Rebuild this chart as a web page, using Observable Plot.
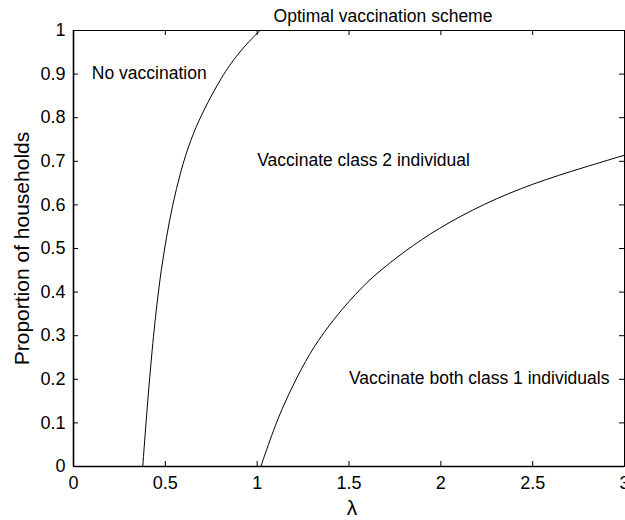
<!DOCTYPE html>
<html>
<head>
<meta charset="utf-8">
<script src="https://cdn.jsdelivr.net/npm/d3@7"></script>
<script src="https://cdn.jsdelivr.net/npm/@observablehq/plot@0.6"></script>
<style>
  html, body { margin: 0; padding: 0; background: #fff; overflow: hidden; }
  svg { font-family: "Liberation Sans", Arial, sans-serif; }
</style>
</head>
<body>
<div id="chart"></div>
<script>
// Boundary curve between "No vaccination" and "Vaccinate class 2 individual"
const curve1Lambda = [0.377, 0.401, 0.429, 0.454, 0.477, 0.506, 0.537, 0.584, 0.636, 0.701, 0.810, 0.889, 0.960, 1.015];
const curve1P      = [0.000, 0.136, 0.274, 0.373, 0.450, 0.526, 0.596, 0.679, 0.748, 0.812, 0.897, 0.943, 0.977, 1.000];

// Boundary curve between "Vaccinate class 2 individual" and "Vaccinate both class 1 individuals"
const curve2Lambda = [1.02, 1.10, 1.172, 1.263, 1.354, 1.50, 1.644, 1.807, 1.98, 2.234, 2.506, 2.778, 3.00];
const curve2P      = [0.000, 0.098, 0.167, 0.243, 0.304, 0.381, 0.442, 0.495, 0.545, 0.603, 0.650, 0.686, 0.714];

const xTicks = [0, 0.5, 1, 1.5, 2, 2.5, 3];
const yTicks = [0, 0.1, 0.2, 0.3, 0.4, 0.5, 0.6, 0.7, 0.8, 0.9, 1];

const regionLabels = ["No vaccination", "Vaccinate class 2 individual", "Vaccinate both class 1 individuals"];
const regionLambda = [0.1, 1.0, 1.5];
const regionP      = [0.902, 0.703, 0.203];

const titleText = "Optimal vaccination scheme";
const xLabel = "λ";
const yLabel = "Proportion of households";

const curve1 = curve1Lambda.map((x, i) => ({x, y: curve1P[i]}));
const curve2 = curve2Lambda.map((x, i) => ({x, y: curve2P[i]}));
const regions = regionLabels.map((t, i) => ({t, x: regionLambda[i], y: regionP[i]}));

const W = 625, H = 520;
const mT = 30, mB = 54, mL = 73, mR = 1;
const innerH = H - mT - mB, innerW = W - mL - mR;
const tick = 5;

const plot = Plot.plot({
  width: W,
  height: H,
  marginTop: mT,
  marginBottom: mB,
  marginLeft: mL,
  marginRight: mR,
  style: {fontFamily: '"Liberation Sans", Arial, sans-serif', background: "#fff", overflow: "visible"},
  x: {domain: [0, 3]},
  y: {domain: [0, 1]},
  marks: [
    // tick labels
    Plot.axisX(xTicks, {tickSize: 0, tickPadding: 10, fontSize: 18, fill: "#000", label: null, tickFormat: d => String(d)}),
    Plot.axisY(yTicks, {tickSize: 0, tickPadding: 8, fontSize: 18, fill: "#000", label: null, tickFormat: d => String(d)}),
    // inward ticks on all four sides
    Plot.ruleX(xTicks, {x: d => d, insetTop: innerH - tick, stroke: "#000", strokeWidth: 1}),
    Plot.ruleX(xTicks, {x: d => d, insetBottom: innerH - tick, stroke: "#000", strokeWidth: 1}),
    Plot.ruleY(yTicks, {y: d => d, insetRight: innerW - tick, stroke: "#000", strokeWidth: 1}),
    Plot.ruleY(yTicks, {y: d => d, insetLeft: innerW - tick, stroke: "#000", strokeWidth: 1}),
    Plot.frame({stroke: "#000", strokeWidth: 1}),
    Plot.ruleX([0], {stroke: "#000", strokeWidth: 1.6}),
    Plot.ruleY([0], {stroke: "#000", strokeWidth: 1.6}),
    // boundary curves
    Plot.line(curve1, {x: "x", y: "y", curve: "basis", stroke: "#000", strokeWidth: 1}),
    Plot.line(curve2, {x: "x", y: "y", curve: "basis", stroke: "#000", strokeWidth: 1}),
    // region annotations
    Plot.text(regions, {x: "x", y: "y", text: "t", textAnchor: "start", fontSize: 17.5, fill: "#000"}),
    // title and axis labels
    Plot.text([titleText], {frameAnchor: "top", dy: -21, dx: 34, fontSize: 17.5, fill: "#000"}),
    Plot.text([xLabel], {frameAnchor: "bottom", dy: 48, dx: 3, fontSize: 21, fill: "#000"}),
    Plot.text([yLabel], {frameAnchor: "left", dx: -51, rotate: -90, textAnchor: "middle", fontSize: 21, fill: "#000"})
  ]
});

document.getElementById("chart").appendChild(plot);
</script>
</body>
</html>
